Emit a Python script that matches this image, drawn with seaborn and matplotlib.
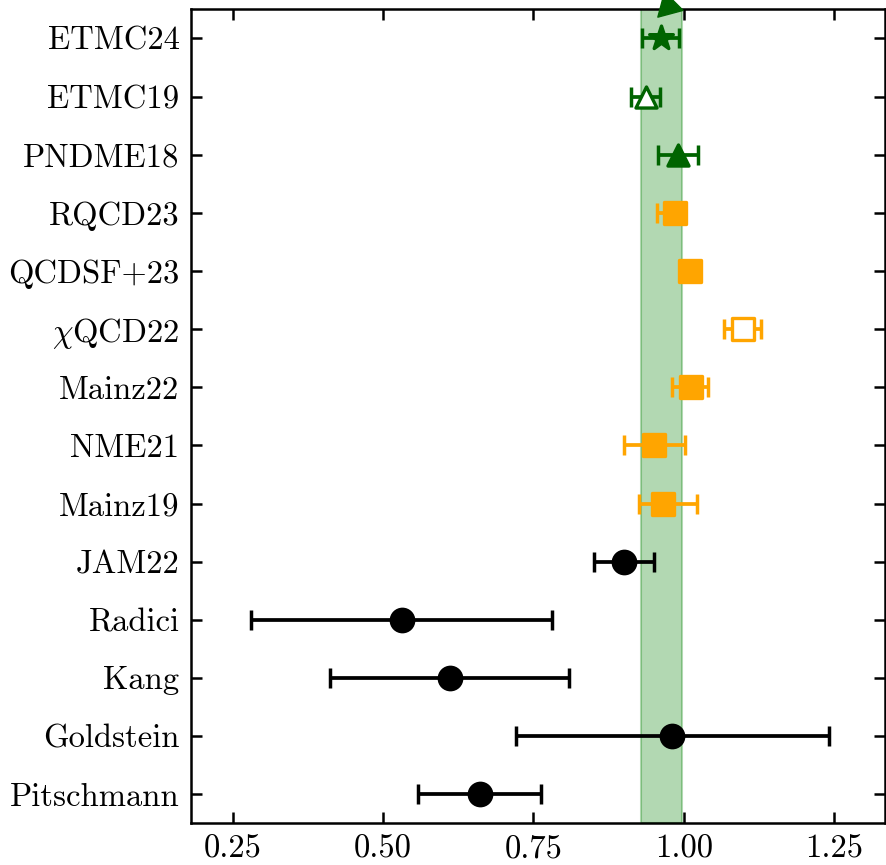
import numpy as np
import pandas as pd
import seaborn as sns
import matplotlib.pyplot as plt

labels = ["ETMC24", "ETMC19", "PNDME18", "RQCD23", "QCDSF+23", r"$\chi$QCD22",
          "Mainz22", "NME21", "Mainz19", "JAM22", "Radici", "Kang",
          "Goldstein", "Pitschmann"]
values = [0.962, 0.937, 0.990, 0.985, 1.010, 1.098,
          1.012, 0.950, 0.966, 0.900, 0.531, 0.611,
          0.981, 0.662]
err_lo = [0.031, 0.024, 0.033, 0.030, 0.008, 0.031,
          0.031, 0.050, 0.041, 0.050, 0.250, 0.200,
          0.260, 0.104]
err_hi = [0.031, 0.024, 0.033, 0.010, 0.008, 0.031,
          0.029, 0.052, 0.056, 0.050, 0.250, 0.199,
          0.260, 0.100]
colors = ["darkgreen"] * 3 + ["orange"] * 6 + ["black"] * 5
markers = ["*", "^", "^", "s", "s", "s", "s", "s", "s", "o", "o", "o", "o", "o"]
open_marker = [False, True, False, False, False, True,
               False, False, False, False, False, False, False, False]

band = (0.929, 0.998)

df = pd.DataFrame({"label": labels, "value": values, "lo": err_lo, "hi": err_hi,
                   "color": colors, "marker": markers, "open": open_marker})
df["y"] = np.arange(len(df))[::-1]

sns.set_style("ticks")
plt.rcParams["font.family"] = "serif"
plt.rcParams["font.serif"] = ["cmr10"]
plt.rcParams["mathtext.fontset"] = "cm"
plt.rcParams["axes.formatter.use_mathtext"] = True
plt.rcParams["text.color"] = "black"
plt.rcParams["axes.edgecolor"] = "black"
plt.rcParams["xtick.color"] = "black"
plt.rcParams["ytick.color"] = "black"

fig = plt.figure(figsize=(8.86, 8.65), dpi=100)
ax = fig.add_axes([0.2152, 0.0482, 0.7838, 0.941])

ax.axvspan(band[0], band[1], color="green", alpha=0.3, lw=1.5, zorder=0)

for _, r in df.iterrows():
    ax.errorbar(r["value"], r["y"], xerr=[[r["lo"]], [r["hi"]]], fmt="none",
                ecolor=r["color"], elinewidth=2.7, capsize=7, capthick=2.5, zorder=2)
    ms = 320 if r["marker"] == "*" else (230 if r["marker"] == "^" else 260)
    face = "white" if r["open"] else r["color"]
    sns.scatterplot(x=[r["value"]], y=[r["y"]], marker=r["marker"], s=ms,
                    facecolor=face, edgecolor=r["color"], linewidth=2.4,
                    joinstyle="round", ax=ax, zorder=3, legend=False)

# partly hidden marker above the top row
ax.scatter([0.974], [13.555], marker=(3, 0, -105), s=470, color="darkgreen",
           clip_on=False, zorder=4)

ax.set_yticks(df["y"])
ax.set_yticklabels(df["label"])
ax.set_xticks([0.25, 0.50, 0.75, 1.00, 1.25])
ax.set_xticklabels(["0.25", "0.50", "0.75", "1.00", "1.25"])
ax.set_xlim(0.18, 1.335)
ax.set_ylim(-0.5, 13.5)
ax.set_xlabel("")
ax.set_ylabel("")
ax.tick_params(direction="in", top=True, right=True, length=8, width=1.8,
               labelsize=23.5, pad=8)
for s in ax.spines.values():
    s.set_linewidth(1.8)

plt.savefig("out.png", dpi=100)
plt.close()
